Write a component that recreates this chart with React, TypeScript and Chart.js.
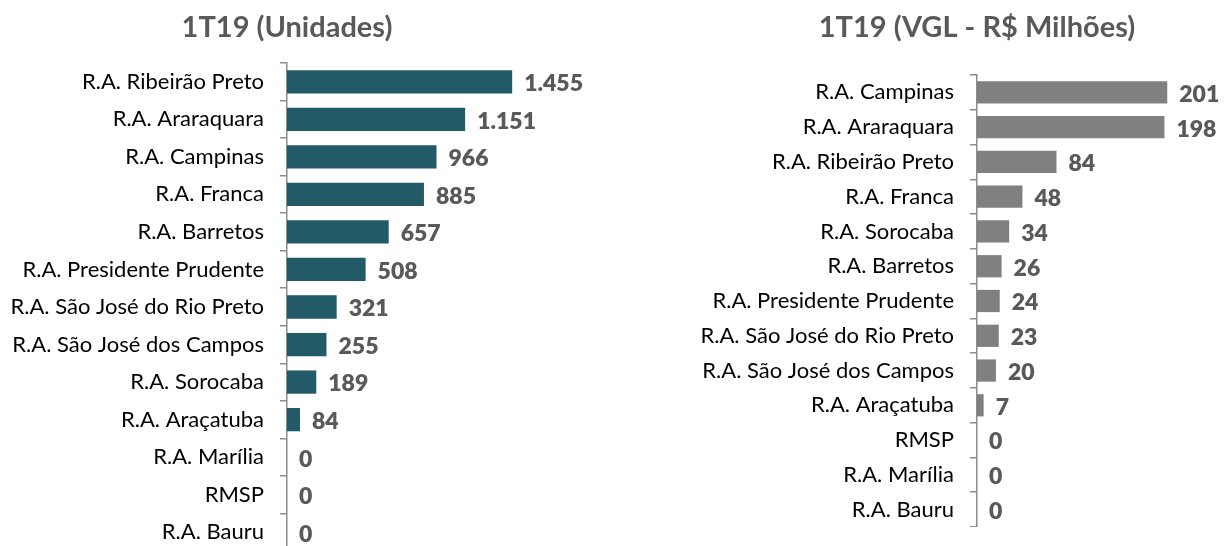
import React, { useEffect, useRef } from "react";
import { Chart, registerables } from "chart.js";

Chart.register(...registerables);

const leftTitle = "1T19 (Unidades)";
const leftCategories = [
  "R.A. Ribeirão Preto",
  "R.A. Araraquara",
  "R.A. Campinas",
  "R.A. Franca",
  "R.A. Barretos",
  "R.A. Presidente Prudente",
  "R.A. São José do Rio Preto",
  "R.A. São José dos Campos",
  "R.A. Sorocaba",
  "R.A. Araçatuba",
  "R.A. Marília",
  "RMSP",
  "R.A. Bauru",
];
const leftValues = [1455, 1151, 966, 885, 657, 508, 321, 255, 189, 84, 0, 0, 0];

const rightTitle = "1T19 (VGL - R$ Milhões)";
const rightCategories = [
  "R.A. Campinas",
  "R.A. Araraquara",
  "R.A. Ribeirão Preto",
  "R.A. Franca",
  "R.A. Sorocaba",
  "R.A. Barretos",
  "R.A. Presidente Prudente",
  "R.A. São José do Rio Preto",
  "R.A. São José dos Campos",
  "R.A. Araçatuba",
  "RMSP",
  "R.A. Marília",
  "R.A. Bauru",
];
const rightValues = [201, 198, 84, 48, 34, 26, 24, 23, 20, 7, 0, 0, 0];

const FONT = "Lato, 'Open Sans', sans-serif";

function fmt(v: number): string {
  const s = Math.round(v).toString();
  return s.replace(/\B(?=(\d{3})+(?!\d))/g, ".");
}

type Props = {
  title: string;
  categories: string[];
  values: number[];
  color: string;
  left: number;
  width: number;
  height: number;
  axisWidth: number;
  padTop: number;
  max: number;
  barPct: number;
};

function BarPanel(p: Props) {
  const ref = useRef<HTMLCanvasElement | null>(null);
  useEffect(() => {
    if (!ref.current) return;
    const plugin = {
      id: "labelsTitle",
      afterDatasetsDraw(chart: any) {
        const ctx = chart.ctx;
        const meta = chart.getDatasetMeta(0);
        ctx.save();
        ctx.fillStyle = "#595959";
        ctx.font = `800 23px ${FONT}`;
        ctx.textAlign = "left";
        ctx.textBaseline = "middle";
        meta.data.forEach((bar: any, i: number) => {
          ctx.fillText(fmt(p.values[i]), bar.x + 12, bar.y + 2);
        });
        ctx.font = `bold 29px ${FONT}`;
        ctx.textAlign = "center";
        ctx.fillText(p.title, chart.chartArea.left, 28);
        ctx.restore();
      },
    };
    const chart = new Chart(ref.current, {
      type: "bar",
      data: {
        labels: p.categories,
        datasets: [
          {
            data: p.values,
            backgroundColor: p.color,
            barPercentage: p.barPct,
            categoryPercentage: 1,
          },
        ],
      },
      options: {
        indexAxis: "y",
        responsive: false,
        animation: false,
        layout: { padding: { top: p.padTop, left: 0, right: 0, bottom: 0 } },
        plugins: { legend: { display: false }, tooltip: { enabled: false }, title: { display: false } },
        scales: {
          x: { display: false, min: 0, max: p.max },
          y: {
            afterFit(scale: any) {
              scale.width = p.axisWidth;
              scale.paddingTop = 0;
              scale.paddingBottom = 0;
            },
            border: { display: true, color: "#8c8c8c", width: 1.5 },
            grid: {
              display: true,
              drawOnChartArea: false,
              drawTicks: true,
              tickLength: 7,
              color: "#8c8c8c",
              lineWidth: 1.5,
              offset: true,
            },
            ticks: {
              color: "#000000",
              padding: 16,
              font: { family: FONT, size: 22 },
            },
          },
        },
      },
      plugins: [plugin],
    } as any);
    return () => chart.destroy();
  }, []);
  return (
    <canvas
      ref={ref}
      width={p.width}
      height={p.height}
      style={{ position: "absolute", left: p.left, top: 0, display: "block", width: p.width, height: p.height }}
    />
  );
}

export default function App() {
  return (
    <div style={{ position: "absolute", left: 0, top: 0, width: 1225, height: 546, overflow: "hidden", background: "#fff" }}>
      <BarPanel
        title={leftTitle}
        categories={leftCategories}
        values={leftValues}
        color="#235A68"
        left={0}
        width={612}
        height={551}
        axisWidth={287}
        padTop={63}
        max={2100}
        barPct={0.62}
      />
      <BarPanel
        title={rightTitle}
        categories={rightCategories}
        values={rightValues}
        color="#808080"
        left={612}
        width={613}
        height={527}
        axisWidth={365}
        padTop={75}
        max={262}
        barPct={0.64}
      />
    </div>
  );
}
